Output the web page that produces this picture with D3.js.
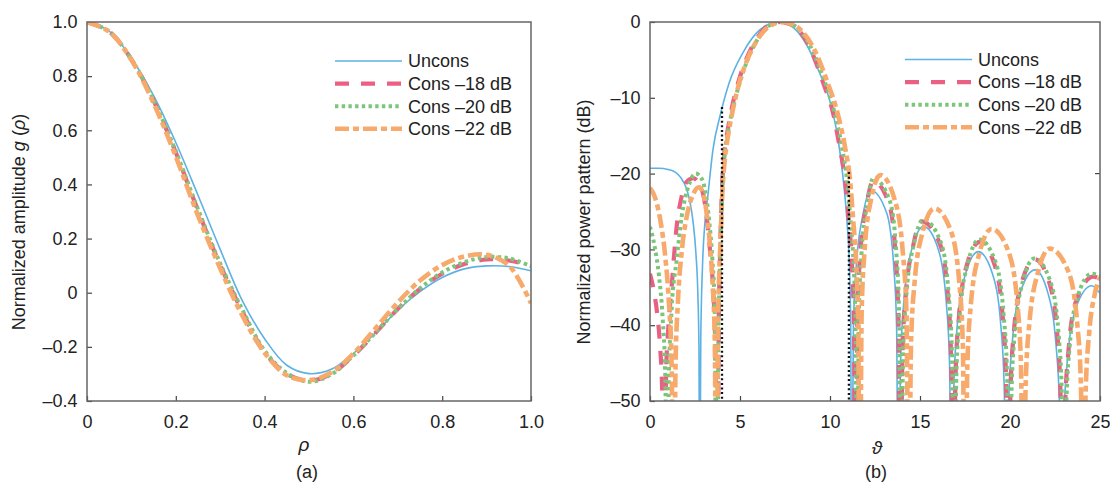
<!DOCTYPE html>
<html><head><meta charset="utf-8">
<script src="https://cdn.jsdelivr.net/npm/d3@7"></script>
<style>
body{margin:0;background:#fff}
svg{display:block}
text{font-family:"Liberation Sans",Arial,sans-serif;fill:#222}
</style>
</head><body>
<svg id="c" width="1110" height="483"></svg>
<script>
// ---------- Data: panel (a) ----------
const rho = [0,0.05,0.10,0.15,0.20,0.25,0.30,0.35,0.40,0.45,0.50,0.55,0.60,0.65,0.70,0.75,0.80,0.85,0.90,0.95,1.00];
const gUncons = [1.0,0.966,0.866,0.728,0.555,0.360,0.160,-0.030,-0.170,-0.268,-0.299,-0.283,-0.224,-0.148,-0.064,0.004,0.056,0.088,0.099,0.097,0.081];
const gCons18 = [1.0,0.965,0.862,0.710,0.518,0.303,0.102,-0.070,-0.220,-0.300,-0.325,-0.300,-0.232,-0.148,-0.060,0.014,0.070,0.106,0.123,0.119,0.100];
const gCons20 = [1.0,0.965,0.862,0.712,0.522,0.308,0.108,-0.063,-0.214,-0.297,-0.329,-0.302,-0.232,-0.147,-0.060,0.016,0.075,0.113,0.132,0.127,0.098];
const gCons22 = [1.0,0.964,0.860,0.700,0.503,0.285,0.090,-0.085,-0.222,-0.305,-0.323,-0.295,-0.225,-0.131,-0.036,0.045,0.102,0.134,0.140,0.101,-0.039];

// ---------- Data: panel (b)  [theta, dB] ----------
const patUncons = [
[0,-19.3],[0.5,-19.3],[1.0,-19.45],[1.4,-19.8],[1.7,-20.5],[2.0,-21.8],[2.2,-23.5],[2.4,-26.5],[2.55,-30.5],[2.66,-36],[2.72,-43],[2.76,-70],
[2.82,-42],[2.92,-32],[3.05,-26.5],[3.22,-22.8],[3.5,-16.8],[3.9,-12.3],[4.4,-8.0],[5.2,-3.9],[5.9,-1.5],[6.5,-0.4],[7.0,0],[7.5,-0.15],[8.0,-0.8],[8.7,-3.0],[9.4,-6.6],[10.0,-10.5],[10.45,-15.5],[10.7,-20],[10.95,-26.5],[11.06,-31],[11.15,-40],[11.2,-70],
[11.3,-40.2],[11.46,-32.2],[11.85,-25.2],[12.25,-22.2],[13.15,-25.2],[13.54,-32.2],[13.7,-40.2],[13.8,-70],
[13.92,-45],[14.1,-37],[14.54,-30],[15.2,-27],[16.02,-30],[16.46,-37],[16.64,-45],[16.76,-70],
[16.88,-48.3],[17.06,-40.3],[17.52,-33.3],[18.24,-30.3],[19.04,-33.3],[19.5,-40.3],[19.68,-48.3],[19.8,-70],
[19.92,-50.7],[20.11,-42.7],[20.57,-35.7],[21.39,-32.7],[22.1,-35.7],[22.56,-42.7],[22.75,-50.7],[22.87,-70],
[22.99,-52.8],[23.18,-44.8],[23.65,-37.8],[24.54,-34.8],[25,-35.8]];
const patCons18 = [
[0,-33.2],[0.2,-35.3],[0.4,-38.5],[0.55,-42.5],[0.68,-49],[0.8,-70],[0.9,-46],[1.0,-41],[1.2,-35],[1.48,-27],[1.76,-23],[2.04,-21.1],[2.4,-20.6],[2.75,-21.5],[2.96,-22.8],[3.15,-25.7],[3.33,-30],[3.5,-35],[3.62,-42],[3.75,-70],
[3.82,-40],[3.9,-30],[4.0,-22],[4.12,-17.5],[4.3,-14.5],[4.54,-11.4],[4.91,-7.9],[5.37,-4.8],[5.93,-2.2],[6.48,-0.6],[6.9,-0.1],[7.25,0],[7.6,-0.15],[8.15,-0.8],[8.9,-3.5],[9.6,-7.9],[10.2,-12.3],[10.55,-16.7],[10.85,-21.1],[11.05,-26.4],[11.2,-31],[11.33,-40],[11.42,-70],
[11.52,-39],[11.67,-31],[12.04,-24],[12.4,-21.0],[13.28,-24],[13.65,-31],[13.8,-39],[13.9,-70],
[14.02,-44.3],[14.2,-36.3],[14.64,-29.3],[15.09,-26.3],[16.11,-29.3],[16.56,-36.3],[16.73,-44.3],[16.85,-70],
[16.97,-47],[17.16,-39],[17.61,-32],[18.33,-29],[19.14,-32],[19.6,-39],[19.78,-47],[19.9,-70],
[20.02,-49.3],[20.2,-41.3],[20.66,-34.3],[21.39,-31.3],[22.17,-34.3],[22.63,-41.3],[22.81,-49.3],[22.93,-70],
[23.05,-51.6],[23.24,-43.6],[23.7,-36.6],[24.63,-33.6],[25,-33.9]];
const patCons20 = [
[0,-27],[0.25,-29.5],[0.5,-33.5],[0.7,-39],[0.85,-47],[0.96,-70],[1.05,-47],[1.2,-38],[1.48,-31.4],[1.76,-25.7],[2.13,-21.7],[2.55,-20.0],[2.9,-20.8],[3.1,-22.8],[3.3,-26.5],[3.47,-31.5],[3.6,-38],[3.72,-70],
[3.8,-42],[3.9,-31],[4.0,-23],[4.15,-17.5],[4.35,-14.3],[4.62,-11.2],[5.0,-7.9],[5.45,-4.8],[6.0,-2.2],[6.55,-0.6],[6.95,-0.1],[7.3,0],[7.65,-0.15],[8.2,-0.8],[8.95,-3.4],[9.7,-7.8],[10.28,-12.2],[10.68,-16.7],[10.95,-21],[11.15,-26.5],[11.3,-31.5],[11.42,-40],[11.5,-70],
[11.6,-38.6],[11.75,-30.6],[12.1,-23.6],[12.4,-20.6],[13.32,-23.6],[13.69,-30.6],[13.84,-38.6],[13.94,-70],
[14.06,-44.1],[14.24,-36.1],[14.68,-29.1],[15.19,-26.1],[16.16,-29.1],[16.6,-36.1],[16.78,-44.1],[16.9,-70],
[17.02,-46.7],[17.21,-38.7],[17.67,-31.7],[18.3,-28.7],[19.2,-31.7],[19.65,-38.7],[19.84,-46.7],[19.96,-70],
[20.08,-49.2],[20.26,-41.2],[20.72,-34.2],[21.35,-31.2],[22.24,-34.2],[22.7,-41.2],[22.88,-49.2],[23.0,-70],
[23.12,-51.2],[23.3,-43.2],[23.76,-36.2],[24.54,-33.2],[25,-33.5]];
const patCons22 = [
[0,-21.9],[0.3,-23.3],[0.6,-26.5],[0.85,-31],[1.05,-37],[1.2,-45],[1.32,-70],[1.42,-45],[1.55,-37],[1.8,-29.5],[2.1,-25],[2.4,-22.7],[2.72,-21.8],[2.95,-22.6],[3.15,-25.3],[3.35,-30],[3.5,-35.5],[3.6,-42],[3.68,-70],
[3.78,-40],[3.9,-30],[4.02,-22.5],[4.17,-17.8],[4.35,-14.8],[4.6,-11.6],[4.95,-8.1],[5.4,-5.0],[5.95,-2.4],[6.5,-0.8],[7.0,-0.15],[7.4,0],[7.8,-0.2],[8.3,-0.9],[9.1,-3.5],[9.85,-7.9],[10.45,-12.3],[10.85,-16.7],[11.12,-21],[11.3,-26.5],[11.45,-31.5],[11.57,-40],[11.65,-70],
[11.76,-38.2],[11.92,-30.2],[12.3,-23.2],[12.8,-20.2],[13.6,-23.5],[14.05,-30.5],[14.25,-38.5],[14.38,-70],
[14.5,-42.6],[14.69,-34.6],[15.16,-27.6],[15.8,-24.6],[16.72,-27.6],[17.19,-34.6],[17.38,-42.6],[17.5,-70],
[17.63,-45.4],[17.82,-37.4],[18.31,-30.4],[18.98,-27.3],[19.93,-30.4],[20.42,-37.4],[20.61,-45.4],[20.74,-70],
[20.87,-47.9],[21.07,-39.9],[21.57,-32.9],[22.2,-29.9],[23.24,-32.9],[23.74,-39.9],[23.94,-47.9],[24.07,-70],
[24.2,-49],[24.4,-41],[24.7,-36],[25,-33.7]];
const markerTheta = [4.0, 11.05];
const markerTop = [-11.2, -19.8];

// ---------- Labels ----------
const seriesNames = ["Uncons","Cons \u201318 dB","Cons \u201320 dB","Cons \u201322 dB"];
const xTicksA = [0,0.2,0.4,0.6,0.8,1.0];
const xLabelsA = ["0","0.2","0.4","0.6","0.8","1.0"];
const yTicksA = [-0.4,-0.2,0,0.2,0.4,0.6,0.8,1.0];
const yLabelsA = ["\u20130.4","\u20130.2","0","0.2","0.4","0.6","0.8","1.0"];
const xTicksB = [0,5,10,15,20,25];
const xLabelsB = ["0","5","10","15","20","25"];
const yTicksB = [-50,-40,-30,-20,-10,0];
const yLabelsB = ["\u201350","\u201340","\u201330","\u201320","\u201310","0"];

// ---------- Styles ----------
const styles = [
  {color:"#5db2e4", width:1.6, dash:null},
  {color:"#ea6083", width:4.2, dash:"14,12"},
  {color:"#7cc67c", width:4.0, dash:"3.4,3.3"},
  {color:"#f7aa6b", width:4.6, dash:"14,4,6,4"}
];

const svg = d3.select("#c");
const FONT = '"Liberation Sans", Arial, sans-serif';

function panel(cfg){
  const x = d3.scaleLinear().domain(cfg.xDom).range([cfg.left, cfg.right]);
  const y = d3.scaleLinear().domain(cfg.yDom).range([cfg.bottom, cfg.top]);
  const g = svg.append("g");
  const clipId = "clip" + cfg.id;
  svg.append("clipPath").attr("id", clipId).append("rect")
    .attr("x", cfg.left).attr("y", cfg.top)
    .attr("width", cfg.right - cfg.left).attr("height", cfg.bottom - cfg.top);

  const ax = g.append("g").attr("transform", `translate(0,${cfg.bottom})`)
    .call(d3.axisBottom(x).tickValues(cfg.xTicks).tickFormat((d,i)=>cfg.xLabels[i])
      .tickSizeInner(-5).tickSizeOuter(0).tickPadding(14));
  const ay = g.append("g").attr("transform", `translate(${cfg.left},0)`)
    .call(d3.axisLeft(y).tickValues(cfg.yTicks).tickFormat((d,i)=>cfg.yLabels[i])
      .tickSizeInner(-5).tickSizeOuter(0).tickPadding(9.5));
  [ax, ay].forEach(a=>{
    a.select(".domain").remove();
    a.attr("font-size", 18).attr("font-family", FONT);
    a.selectAll("line").attr("stroke", "#444").attr("stroke-width", 1.2);
    a.selectAll("text").attr("fill", "#222");
  });
  if (cfg.rightTicks) {
    g.selectAll(".rt").data(cfg.rightTicks).enter().append("line")
      .attr("x1", cfg.right).attr("x2", cfg.right - 5)
      .attr("y1", d=>y(d)).attr("y2", d=>y(d))
      .attr("stroke", "#444").attr("stroke-width", 1.2);
  }

  const plot = g.append("g").attr("clip-path", `url(#${clipId})`);
  const line = d3.line().x(d=>x(d[0])).y(d=>y(d[1])).curve(cfg.curve);
  cfg.series.forEach((s,i)=>{
    const st = styles[i];
    plot.append("path").datum(s).attr("d", line)
      .attr("fill","none").attr("stroke", st.color).attr("stroke-width", st.width)
      .attr("stroke-dasharray", st.dash).attr("stroke-linecap","butt");
  });
  if (cfg.markers) {
    cfg.markers.forEach(m=>{
      plot.append("line").attr("x1", x(m[0])).attr("x2", x(m[0]))
        .attr("y1", y(m[1])).attr("y2", y(cfg.yDom[0]))
        .attr("stroke", "#111").attr("stroke-width", 2.3).attr("stroke-dasharray", "2,2.6");
    });
  }

  g.append("rect").attr("x", cfg.left).attr("y", cfg.top)
    .attr("width", cfg.right - cfg.left).attr("height", cfg.bottom - cfg.top)
    .attr("fill","none").attr("stroke","#666").attr("stroke-width",1.5);

  seriesNames.forEach((name,i)=>{
    const st = styles[i];
    const yy = cfg.legY + i*22.6;
    g.append("line").attr("x1", cfg.legX).attr("x2", cfg.legX + 67)
      .attr("y1", yy).attr("y2", yy)
      .attr("stroke", st.color).attr("stroke-width", st.width).attr("stroke-dasharray", st.dash);
    g.append("text").attr("x", cfg.legX + 73).attr("y", yy).attr("dy","0.35em")
      .attr("font-size", 18).text(name);
  });

  const yt = g.append("text").attr("transform", `translate(${cfg.yTitleX},222) rotate(-90)`)
    .attr("text-anchor","middle").attr("font-size",18);
  cfg.yTitle.forEach(p=>{
    const t = yt.append("tspan").text(p.t);
    if (p.i) t.attr("font-style","italic");
  });
  g.append("text").attr("x", cfg.xTitleX).attr("y", cfg.xTitleY).attr("text-anchor","middle")
    .attr("font-size",19).attr("font-style","italic").text(cfg.xTitle);
  g.append("text").attr("x", cfg.capX).attr("y", 478).attr("text-anchor","middle")
    .attr("font-size",18).text(cfg.caption);
}

panel({
  id:"a", left:87, right:531, top:22, bottom:401,
  xDom:[0,1], yDom:[-0.4,1.0],
  xTicks:xTicksA, xLabels:xLabelsA, yTicks:yTicksA, yLabels:yLabelsA,
  series:[gUncons,gCons18,gCons20,gCons22].map(arr=>arr.map((v,i)=>[rho[i],v])),
  curve:d3.curveCatmullRom.alpha(0.5),
  legX:335, legY:61,
  yTitleX:25, yTitle:[{t:"Normalized amplitude "},{t:"g",i:true},{t:" ("},{t:"\u03c1",i:true},{t:")"}],
  xTitle:"\u03c1", xTitleX:304, xTitleY:451,
  caption:"(a)", capX:307
});

panel({
  id:"b", left:650, right:1100, top:22, bottom:401,
  xDom:[0,25], yDom:[-50,0],
  xTicks:xTicksB, xLabels:xLabelsB, yTicks:yTicksB, yLabels:yLabelsB,
  rightTicks:[-20],
  series:[patUncons,patCons18,patCons20,patCons22],
  curve:d3.curveMonotoneX,
  markers: markerTheta.map((t,i)=>[t, markerTop[i]]),
  legX:905, legY:59.5,
  yTitleX:590, yTitle:[{t:"Normalized power pattern (dB)"}],
  xTitle:"\u03d1", xTitleX:877, xTitleY:454,
  caption:"(b)", capX:876
});
</script>
</body></html>
